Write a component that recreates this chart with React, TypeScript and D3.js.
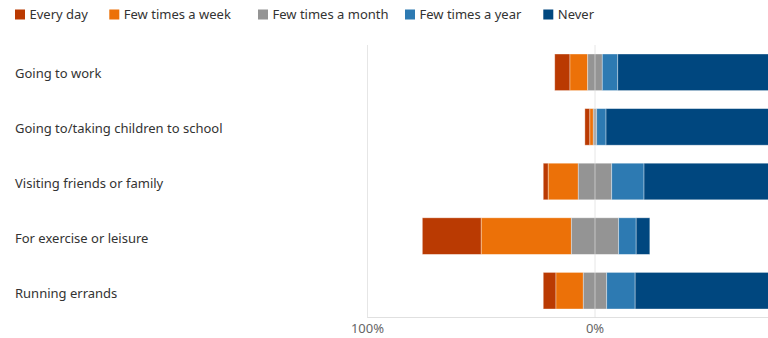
import React from "react";
import * as d3 from "d3";

const categories = [
  "Going to work",
  "Going to/taking children to school",
  "Visiting friends or family",
  "For exercise or leisure",
  "Running errands",
];
const seriesNames = ["Every day", "Few times a week", "Few times a month", "Few times a year", "Never"];
const everyDay = [6.7, 2.2, 2.2, 25.9, 5.6];
const fewWeek = [7.8, 1.5, 13.2, 39.6, 12.0];
const fewMonth = [6.4, 1.5, 14.7, 20.8, 10.3];
const fewYear = [6.8, 4.1, 14.2, 7.7, 12.5];
const never = [72.3, 90.7, 55.7, 6.0, 59.6];
const colors = ["#BA3A02", "#EC7108", "#949494", "#2D7AB2", "#00477F"];
const tickValues = [-100, 0];

const W = 768;
const H = 338;
const FONT = "'Noto Sans', sans-serif";

export default function App() {
  const x = d3.scaleLinear().domain([-100, 100]).range([367.5, 822.5]);
  const y = d3.scaleBand().domain(categories).range([45, 318]).paddingInner(0.33).paddingOuter(0.165);
  const yLabel = d3.scaleBand().domain(categories).range([45.4, 321.4]);
  const series = [everyDay, fewWeek, fewMonth, fewYear, never];

  const rects: any[] = [];
  categories.forEach((c, i) => {
    let start = -(everyDay[i] + fewWeek[i] + fewMonth[i] / 2);
    series.forEach((s, k) => {
      const v = s[i];
      rects.push(
        <rect
          key={`${i}-${k}`}
          x={x(start)}
          y={y(c)}
          width={x(start + v) - x(start)}
          height={y.bandwidth()}
          fill={colors[k]}
          stroke="rgba(255,255,255,0.45)"
          strokeWidth={0.8}
        />
      );
      start += v;
    });
  });

  const legendX = [15, 109.3, 258, 405, 543.3];

  return (
    <svg width={W} height={H} style={{ position: "absolute", left: 0, top: 0, background: "#fff" }}>
      <g>
        {legendX.map((lx, k) => (
          <g key={k}>
            <rect x={lx} y={9.5} width={10} height={10} fill={colors[k]} />
            <text x={lx + 14.5} y={19} fontFamily={FONT} fontSize={13} fill="#333">
              {seriesNames[k]}
            </text>
          </g>
        ))}
      </g>
      <line x1={x(-100)} x2={x(-100)} y1={45} y2={318} stroke="#e6e6e6" />
      <line x1={x(-100)} x2={W} y1={317.5} y2={317.5} stroke="#e0e0e0" />
      {rects}
      <line x1={x(0)} x2={x(0)} y1={45} y2={318} stroke="rgba(220,220,220,0.7)" />
      {categories.map((c) => (
        <text
          key={c}
          x={15}
          y={(yLabel(c) as number) + yLabel.bandwidth() / 2}
          dy="0.35em"
          fontFamily={FONT}
          fontSize={13}
          fill="#333"
        >
          {c}
        </text>
      ))}
      {tickValues.map((t) => (
        <text key={t} x={x(t)} y={333} textAnchor="middle" fontFamily={FONT} fontSize={13} fill="#666">
          {Math.abs(t)}%
        </text>
      ))}
    </svg>
  );
}
